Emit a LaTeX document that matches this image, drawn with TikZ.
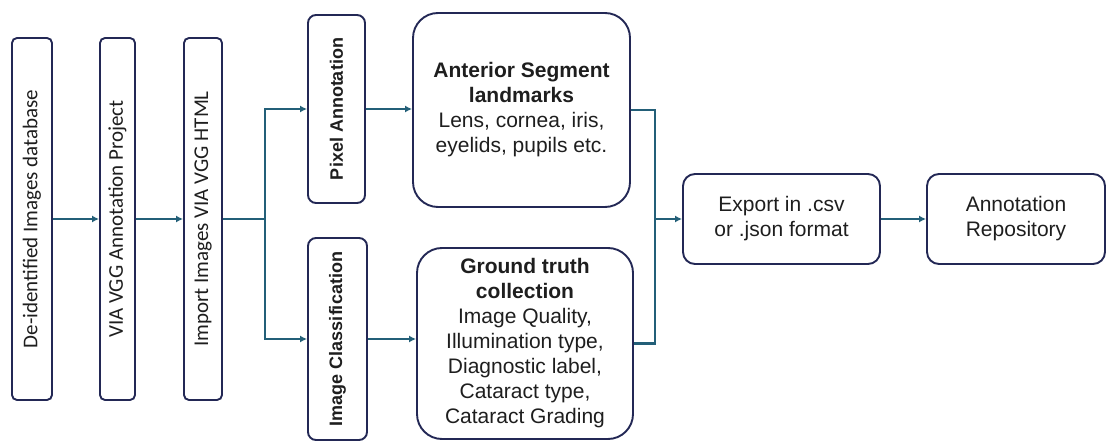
\documentclass[tikz,border=0pt]{standalone}
\usepackage{fontspec}
\setmainfont{Liberation Sans}
\newfontfamily\calibrifont{Carlito}
\usetikzlibrary{arrows.meta}

\definecolor{boxline}{RGB}{35,40,85}
\definecolor{flowline}{RGB}{35,95,120}
\definecolor{txt}{RGB}{30,30,30}

\begin{document}
\begin{tikzpicture}[x=1pt, y=1pt,
				tallbox/.style 	= {draw=boxline, line width=1.9pt, rounded corners=5pt, rotate=90,
					minimum width=362pt, inner sep=0pt, text=txt,
					font=\calibrifont\fontsize{21}{25}\selectfont},
				sidebox/.style 	= {draw=boxline, line width=1.9pt, rounded corners=8pt, rotate=90,
					inner sep=0pt, text=txt, font=\bfseries\fontsize{18}{21}\selectfont},
				bigbox/.style 	= {draw=boxline, line width=1.9pt, rounded corners=25pt, align=center,
					inner sep=0pt, text=txt, font=\fontsize{21}{25}\selectfont},
				smallbox/.style = {bigbox, rounded corners=12pt},
				link/.style 	= {draw=flowline, line width=2.7pt},
				flow/.style 	= {link, -{Latex[length=7pt,width=7pt]}}]
				%\draw[help lines] (0,0) grid[step=50] (1107,442);
				\useasboundingbox (0,0) rectangle (1107,442);
				
				\node[tallbox, minimum height=40pt] (db) at (32,223) {De-identified Images database};
				\node[tallbox, minimum height=35pt] (vgg) at (117.5,223) {VIA VGG Annotation Project};
				\node[tallbox, minimum height=38pt] (imp) at (203,223) {Import Images VIA VGG HTML};
				
				\node[sidebox, minimum width=188pt, minimum height=57pt] (pix) at (336.5,333) {Pixel Annotation};
				\node[sidebox, minimum width=202pt, minimum height=59pt] (cls) at (337.5,103) {Image Classification};
				
				\node[bigbox, minimum width=217pt, minimum height=194pt] (seg) at (521.5,332)
					{\textbf{Anterior Segment}\\\textbf{landmarks}\\Lens, cornea, iris,\\eyelids, pupils etc.};
				\node[bigbox, minimum width=216pt, minimum height=191pt] (gt) at (525,98.5)
					{\textbf{Ground truth}\\\textbf{collection}\\Image Quality,\\Illumination type,\\Diagnostic label,\\Cataract type,\\Cataract Grading};
				
				\node[smallbox, minimum width=197pt, minimum height=90pt] (exp) at (781.5,223) {Export in .csv\\or .json format};
				\node[smallbox, minimum width=178pt, minimum height=90pt] (rep) at (1016,223) {Annotation\\Repository};
				
				\coordinate (fork) at (265,223);
				\coordinate (merge) at (655,223);
				
				\draw[flow] (db) -- (vgg);
				\draw[flow] (vgg) -- (imp);
				\draw[flow] (imp) -- (fork) |- (pix);
				\draw[flow] (fork) |- (cls);
				\draw[flow] (pix) -- (pix -| seg.west);
				\draw[flow] (cls) -- (cls -| gt.west);
				\draw[flow] (seg.east) -| (merge) -- (exp);
				\draw[link] (gt.east) -| (merge);
				\draw[flow] (exp) -- (rep);
\end{tikzpicture}
\end{document}
